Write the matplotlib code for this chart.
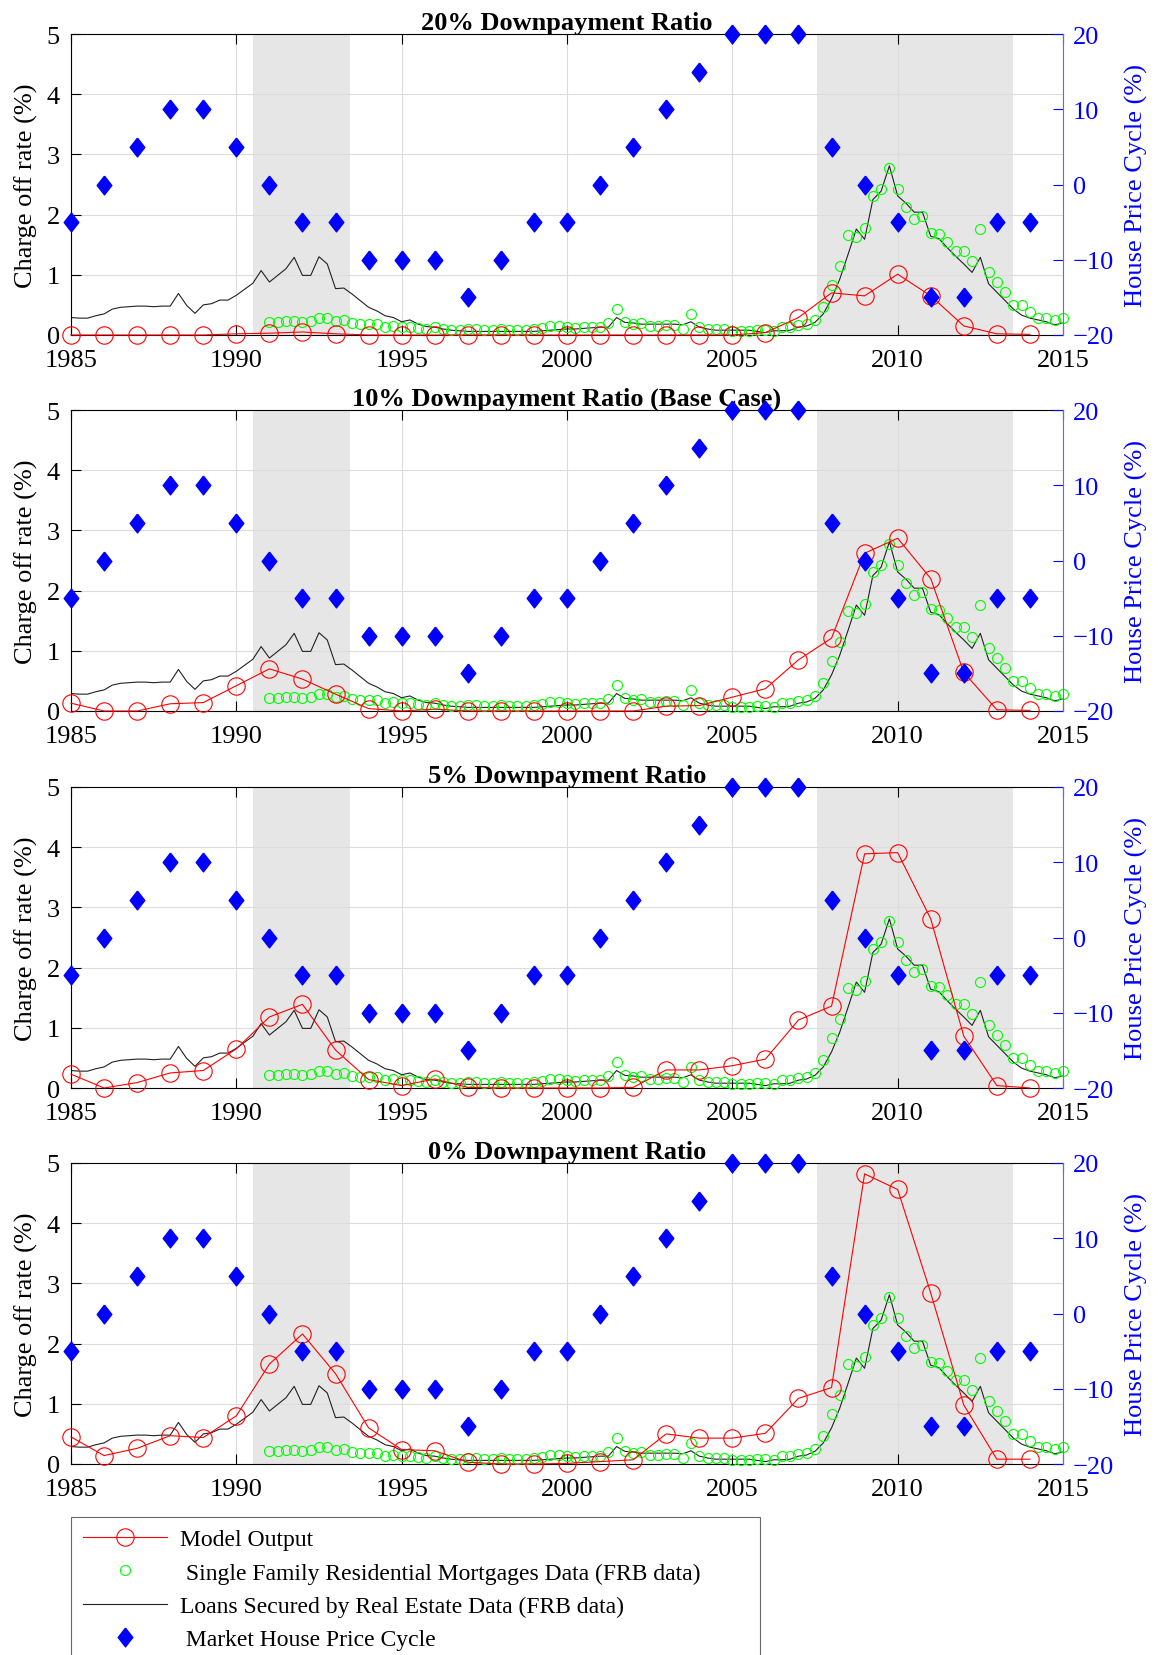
import numpy as np
import matplotlib
matplotlib.use("Agg")
import matplotlib.pyplot as plt
from matplotlib.lines import Line2D

plt.rcParams['font.family'] = ['Liberation Serif', 'DejaVu Serif']
plt.rcParams['mathtext.fontset'] = 'stix'

# annual model years and the house price cycle (right axis, %)
years = np.arange(1985, 2015)
house_cycle = [-5, 0, 5, 10, 10, 5, 0, -5, -5, -10, -10, -10, -15, -10, -5,
               -5, 0, 5, 10, 15, 20, 20, 20, 5, 0, -5, -15, -15, -5, -5]

# model output charge off rate (%) for each downpayment ratio
model_20 = [0, 0, 0, 0, 0, 0.02, 0.03, 0.05, 0.02, 0, 0, 0, 0, 0, 0,
            0, 0, 0, 0, 0, 0, 0.04, 0.29, 0.70, 0.65, 1.01, 0.65, 0.15, 0.02, 0.01]
model_10 = [0.13, 0, 0, 0.12, 0.14, 0.42, 0.70, 0.53, 0.28, 0.04, 0, 0.03, 0, 0, 0,
            0, 0, 0, 0.08, 0.09, 0.23, 0.37, 0.85, 1.21, 2.62, 2.87, 2.20, 0.64, 0.02, 0.01]
model_5 = [0.23, 0, 0.09, 0.25, 0.29, 0.65, 1.18, 1.39, 0.63, 0.14, 0.04, 0.15, 0.01, 0, 0,
           0, 0, 0.01, 0.30, 0.30, 0.37, 0.48, 1.13, 1.36, 3.89, 3.91, 2.81, 0.86, 0.04, 0]
model_0 = [0.45, 0.14, 0.26, 0.47, 0.44, 0.80, 1.66, 2.16, 1.50, 0.60, 0.24, 0.22, 0.03, 0, 0,
           0.01, 0.04, 0.07, 0.50, 0.43, 0.43, 0.51, 1.09, 1.27, 4.82, 4.56, 2.84, 0.98, 0.08, 0.08]

# loans secured by real estate (FRB), quarterly 1985Q1 .. 2015Q1
loans_q = np.arange(1985, 2015.01, 0.25)
loans = [0.29, 0.28, 0.28, 0.32,  0.35, 0.43, 0.46, 0.47,  0.48, 0.48, 0.47, 0.48,
         0.48, 0.69, 0.49, 0.36,  0.50, 0.52, 0.58, 0.58,  0.66, 0.76, 0.86, 1.07,
         0.88, 0.99, 1.10, 1.29,  0.99, 0.99, 1.30, 1.18,  0.77, 0.78, 0.68, 0.57,
         0.46, 0.40, 0.32, 0.29,  0.22, 0.25, 0.18, 0.14,  0.13, 0.10, 0.08, 0.07,
         0.06, 0.06, 0.06, 0.06,  0.06, 0.06, 0.06, 0.06,  0.06, 0.07, 0.08, 0.09,
         0.10, 0.10, 0.11, 0.12,  0.13, 0.13, 0.29, 0.21,  0.20, 0.18, 0.18, 0.18,
         0.18, 0.18, 0.17, 0.22,  0.13, 0.10, 0.08, 0.08,  0.08, 0.08, 0.08, 0.06,
         0.04, 0.07, 0.07, 0.08,  0.13, 0.15, 0.21, 0.35,  0.60, 0.93, 1.34, 1.76,
         1.59, 2.25, 2.39, 2.81,  2.31, 2.19, 2.04, 2.04,  1.64, 1.60, 1.45, 1.31,
         1.18, 1.04, 1.29, 0.85,  0.71, 0.57, 0.43, 0.33,  0.28, 0.25, 0.22, 0.17,
         0.20]

# single family residential mortgages (FRB), quarterly 1991Q1 .. 2015Q1
sfr_q = np.arange(1991, 2015.01, 0.25)
sfr = [0.22, 0.21, 0.23, 0.23,  0.21, 0.23, 0.29, 0.28,  0.23, 0.25, 0.20, 0.18,
       0.18, 0.18, 0.14, 0.15,  0.13, 0.14, 0.11, 0.10,  0.13, 0.10, 0.09, 0.08,
       0.10, 0.10, 0.09, 0.09,  0.10, 0.08, 0.08, 0.08,  0.10, 0.11, 0.15, 0.15,
       0.13, 0.11, 0.13, 0.14,  0.14, 0.20, 0.43, 0.21,  0.18, 0.20, 0.15, 0.15,
       0.17, 0.17, 0.10, 0.35,  0.13, 0.10, 0.10, 0.10,  0.07, 0.07, 0.07, 0.08,
       0.08, 0.07, 0.13, 0.14,  0.17, 0.18, 0.25, 0.46,  0.83, 1.15, 1.66, 1.62,
       1.78, 2.31, 2.42, 2.78,  2.42, 2.12, 1.92, 1.98,  1.70, 1.67, 1.54, 1.40,
       1.40, 1.23, 1.76, 1.05,  0.88, 0.72, 0.50, 0.50,  0.38, 0.29, 0.28, 0.25,
       0.28]

recessions = [(1990.5, 1993.45), (2007.55, 2013.5)]

titles = ['20% Downpayment Ratio', '10% Downpayment Ratio (Base Case)',
          '5% Downpayment Ratio', '0% Downpayment Ratio']
models = [model_20, model_10, model_5, model_0]

BLUE = '#0000ff'
FS = 19

# diamond a bit taller than wide, like the MATLAB one
diamond = [(0, 1), (0.78, 0), (0, -1), (-0.78, 0), (0, 1)]


def draw_panel(ax, title, model):
    '''one panel: charge off rates on the left axis, house price cycle on the right'''
    for a, b in recessions:
        ax.axvspan(a, b, color='#e6e6e6', lw=0, zorder=0.2)

    ax.plot(loans_q, loans, color='#222222', lw=0.8, zorder=2)
    ax.plot(sfr_q, sfr, ls='none', marker='o', ms=7.2, mfc='none',
            mec='#00ff00', mew=0.8, zorder=3, clip_on=False)
    ax.plot(years, model, color='#ff0000', lw=0.8, marker='o', ms=12.5,
            mfc='none', mec='#ff0000', mew=0.8, zorder=4, clip_on=False)

    ax.set_xlim(1985, 2015)
    ax.set_ylim(0, 5)
    ax.set_xticks(np.arange(1985, 2016, 5))
    ax.set_yticks(np.arange(0, 6, 1))
    ax.grid(True, color='#dcdcdc', lw=0.8, zorder=0.5)
    ax.set_axisbelow(True)
    ax.tick_params(direction='in', length=7, width=0.8, top=True, right=True,
                   labelsize=FS)
    ax.tick_params(axis='x', pad=10)
    ax.tick_params(axis='y', pad=8)
    ax.set_ylabel('Charge off rate (%)', fontsize=FS, labelpad=6)
    ax.set_title(title, fontsize=FS, fontweight='bold', pad=3)
    for s in ['left', 'bottom', 'top']:
        ax.spines[s].set_linewidth(0.8)
    ax.spines['right'].set_visible(False)

    ax2 = ax.twinx()
    ax2.plot(years, house_cycle, ls='none', marker=diamond, ms=13.5,
             color=BLUE, mec=BLUE, zorder=5, clip_on=False)
    ax2.set_ylim(-20, 20)
    ax2.set_yticks([-20, -10, 0, 10, 20])
    ax2.tick_params(direction='in', length=7, width=0.8, colors=BLUE,
                    labelsize=FS, pad=7)
    ax2.set_ylabel('House Price Cycle (%)', fontsize=FS, color=BLUE, labelpad=8)
    ax2.spines['right'].set_color('#6666ff')
    ax2.spines['right'].set_linewidth(0.8)
    for s in ['left', 'bottom', 'top']:
        ax2.spines[s].set_visible(False)
    return ax2


fig = plt.figure(figsize=(11.63, 16.56), dpi=100)
W, H = 1163.0, 1656.0
left, width = 71 / W, 992 / W
bottoms_px = [336, 712, 1089, 1465]
height = 301 / H

for bot, title, model in zip(bottoms_px, titles, models):
    ax = fig.add_axes([left, 1 - bot / H, width, height])
    draw_panel(ax, title, model)

handles = [
    Line2D([], [], color='#ff0000', lw=0.8, marker='o', ms=12.5, mfc='none', mew=0.8),
    Line2D([], [], ls='none', marker='o', ms=7.2, mfc='none', mec='#00ff00', mew=0.8),
    Line2D([], [], color='#222222', lw=0.8),
    Line2D([], [], ls='none', marker=diamond, ms=13.5, color=BLUE),
]
labels = ['Model Output',
          ' Single Family Residential Mortgages Data (FRB data)',
          'Loans Secured by Real Estate Data (FRB data)',
          ' Market House Price Cycle']
leg = fig.legend(handles, labels, loc='upper left',
                 bbox_to_anchor=(71 / W, 0, 689 / W, 1 - 1518 / H), mode='expand',
                 fontsize=17, frameon=True, fancybox=False, edgecolor='#444444',
                 handlelength=3.56, handletextpad=0.55, labelspacing=0.5,
                 borderpad=0.5, borderaxespad=0)
leg.get_frame().set_linewidth(0.8)

fig.savefig('out.png', dpi=100)
